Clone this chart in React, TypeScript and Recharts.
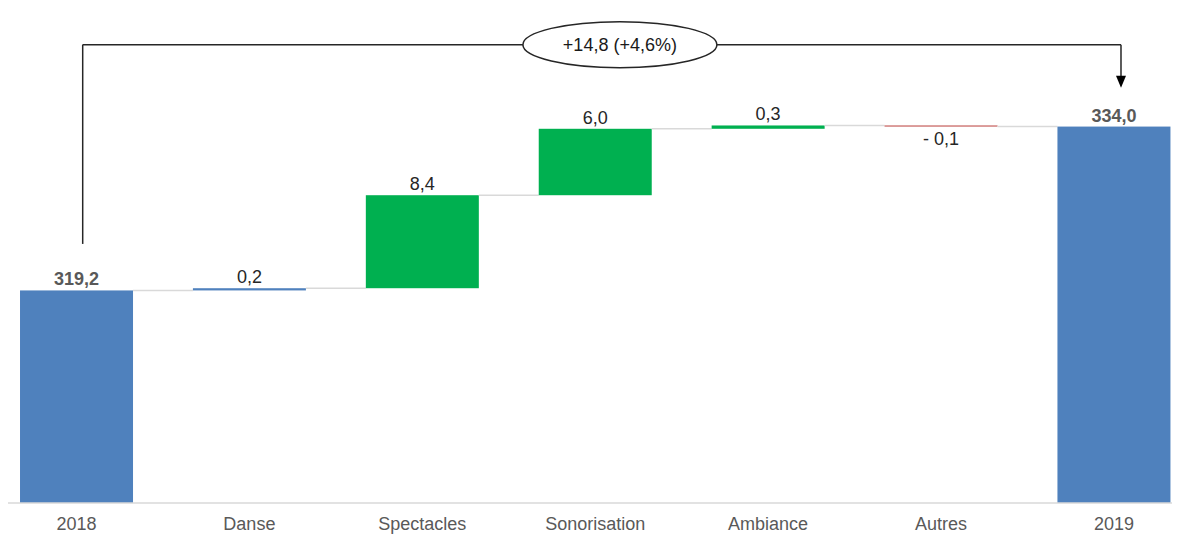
import React from 'react';
import {
  ComposedChart,
  Bar,
  XAxis,
  YAxis,
  ReferenceLine,
  ReferenceDot,
  LabelList,
} from 'recharts';

// ---------- data ----------
const categories = ['2018', 'Danse', 'Spectacles', 'Sonorisation', 'Ambiance', 'Autres', '2019'];
const kinds = ['total', 'delta', 'delta', 'delta', 'delta', 'delta', 'total'];
const values = [319.2, 0.2, 8.4, 6.0, 0.3, -0.1, 334.0];
const barColors = ['#4F81BD', '#4F81BD', '#00B050', '#00B050', '#00B050', '#C0504D', '#4F81BD'];

// ---------- layout ----------
const WIDTH = 1179;
const HEIGHT = 534;
const MARGIN = { top: 38, right: 7, left: 8, bottom: 6 };
const X_DOMAIN: [number, number] = [-0.396, 6.336];
const Y_DOMAIN: [number, number] = [300, 342];
const BAR_SIZE = 113;
const PLOT_W = WIDTH - MARGIN.left - MARGIN.right;
const STEP = PLOT_W / (X_DOMAIN[1] - X_DOMAIN[0]);
const GAP = STEP - BAR_SIZE;

const FONT = '"Liberation Sans", Arial, sans-serif';

// bracket annotation settings
const BRACKET_LEVEL = 341.4;
const LEFT_LEG_X = 0.036;
const RIGHT_LEG_X = 6.041;
const LEFT_LEG_GAP = 4.2;
const RIGHT_LEG_GAP = 3.5;
const BUBBLE_X = 3.143;

// ---------- derived table ----------
const fmt = (v: number) => Math.abs(v).toFixed(1).replace('.', ',');

type Row = {
  i: number;
  name: string;
  kind: string;
  value: number;
  range: [number, number];
  color: string;
  label: string;
};

const rows: Row[] = (() => {
  let running = 0;
  return categories.map((name, i) => {
    const kind = kinds[i];
    const v = values[i];
    let range: [number, number];
    if (kind === 'total') {
      range = [0, v];
      running = v;
    } else {
      const start = running;
      running = running + v;
      range = [Math.min(start, running), Math.max(start, running)];
    }
    const label = kind === 'total' ? fmt(v) : v < 0 ? `- ${fmt(v)}` : fmt(v);
    return { i, name, kind, value: v, range, color: barColors[i], label };
  });
})();

const startTotal = values[0];
const endTotal = values[values.length - 1];
const diff = endTotal - startTotal;
const pct = (diff / startTotal) * 100;
const bubbleText = `${diff >= 0 ? '+' : '-'}${fmt(diff)} (${pct >= 0 ? '+' : '-'}${fmt(pct)}%)`;

// ---------- shapes ----------
const WaterfallShape = (props: any) => {
  const { x, y, width, height, index } = props;
  const row = rows[index];
  const top = Math.min(y, y + height);
  const bottom = Math.max(y, y + height);
  const endY = row.kind === 'delta' && row.value < 0 ? bottom : top;
  const isLast = index === rows.length - 1;
  return (
    <g>
      <rect x={x} y={top} width={width} height={Math.max(bottom - top, 0.8)} fill={row.color} />
      {!isLast && (
        <line
          x1={x + width}
          x2={x + width + GAP}
          y1={endY}
          y2={endY}
          stroke="#D9D9D9"
          strokeWidth={1.5}
        />
      )}
    </g>
  );
};

const renderLabel = (props: any) => {
  const { x, y, width, height, index } = props;
  const row = rows[index];
  const top = Math.min(y, y + height);
  const bottom = Math.max(y, y + height);
  const neg = row.kind === 'delta' && row.value < 0;
  const isTotal = row.kind === 'total';
  return (
    <text
      x={x + width / 2}
      y={neg ? bottom + 18 : top - 5}
      textAnchor="middle"
      fontFamily={FONT}
      fontSize={18}
      fontWeight={isTotal ? 'bold' : 'normal'}
      fill={isTotal ? '#595959' : '#262626'}
    >
      {row.label}
    </text>
  );
};

const ArrowLine = (props: any) => {
  const { x1, y1, x2, y2 } = props;
  return (
    <g>
      <line x1={x1} y1={y1} x2={x2} y2={y2 - 10} stroke="#262626" strokeWidth={1.5} />
      <polygon
        points={`${x2 - 5},${y2 - 12} ${x2 + 5},${y2 - 12} ${x2},${y2}`}
        fill="#000000"
      />
    </g>
  );
};

const Bubble = (props: any) => {
  const { cx, cy } = props;
  return (
    <g>
      <ellipse cx={cx} cy={cy} rx={97} ry={23} fill="#FFFFFF" stroke="#262626" strokeWidth={1.5} />
      <text
        x={cx}
        y={cy + 6}
        textAnchor="middle"
        fontFamily={FONT}
        fontSize={18}
        fill="#1A1A1A"
      >
        {bubbleText}
      </text>
    </g>
  );
};

export default function App() {
  return (
    <div style={{ position: 'absolute', left: 0, top: 0, width: WIDTH, height: HEIGHT, background: '#FFFFFF' }}>
      <ComposedChart width={WIDTH} height={HEIGHT} data={rows} margin={MARGIN}>
        <XAxis
          dataKey="i"
          type="number"
          domain={X_DOMAIN}
          allowDataOverflow
          ticks={rows.map((r) => r.i)}
          interval={0}
          tickFormatter={(v: number) => categories[Math.round(v)] ?? ''}
          axisLine={{ stroke: '#D9D9D9', strokeWidth: 1.5 }}
          tickLine={false}
          tickMargin={8}
          height={25}
          tick={{ fill: '#595959', fontSize: 18, fontFamily: FONT }}
        />
        <YAxis hide type="number" domain={Y_DOMAIN} allowDataOverflow />
        <Bar dataKey="range" barSize={BAR_SIZE} shape={WaterfallShape} isAnimationActive={false}>
          <LabelList dataKey="label" content={renderLabel} />
        </Bar>
        <ReferenceLine
          segment={[
            { x: LEFT_LEG_X, y: startTotal + LEFT_LEG_GAP },
            { x: LEFT_LEG_X, y: BRACKET_LEVEL },
          ]}
          stroke="#262626"
          strokeWidth={1.5}
          ifOverflow="visible"
        />
        <ReferenceLine
          segment={[
            { x: LEFT_LEG_X, y: BRACKET_LEVEL },
            { x: RIGHT_LEG_X, y: BRACKET_LEVEL },
          ]}
          stroke="#262626"
          strokeWidth={1.5}
          ifOverflow="visible"
        />
        <ReferenceLine
          segment={[
            { x: RIGHT_LEG_X, y: BRACKET_LEVEL },
            { x: RIGHT_LEG_X, y: endTotal + RIGHT_LEG_GAP },
          ]}
          shape={ArrowLine}
          ifOverflow="visible"
        />
        <ReferenceDot x={BUBBLE_X} y={BRACKET_LEVEL} r={1} shape={Bubble} ifOverflow="visible" />
      </ComposedChart>
    </div>
  );
}
